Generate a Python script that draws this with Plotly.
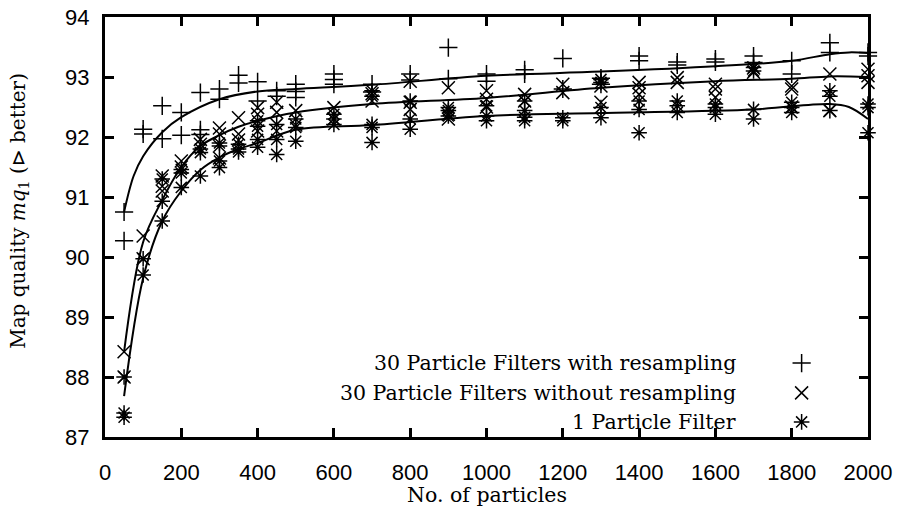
import plotly.graph_objects as go

# ---------------- data ----------------
particles = [50, 100, 150, 200, 250, 300, 350, 400, 450, 500, 600, 700, 800,
             900, 1000, 1100, 1200, 1300, 1400, 1500, 1600, 1700, 1800, 1900, 2000]

with_resampling = [
    [90.75, 90.27], [92.13, 92.05], [92.52, 91.97], [92.41, 92.03],
    [92.74, 92.12, 92.04], [92.80, 92.63], [93.03, 92.90], [92.92, 92.60],
    [92.77, 92.68], [92.88, 92.76, 92.66], [93.05, 92.96, 92.88], [92.88, 92.75],
    [93.05, 92.95], [93.49, 92.97], [93.05, 92.93], [93.12, 93.05], [93.31, 92.80],
    [92.98, 92.88], [93.35, 93.27], [93.25, 93.20], [93.30, 93.25], [93.35, 93.24],
    [93.27, 93.05], [93.57, 93.41], [93.41, 93.35],
]

without_resampling = [
    [88.42, 88.00], [90.35, 89.97], [91.35, 91.18, 91.10], [91.60, 91.50],
    [91.96, 91.88], [92.15, 92.05, 91.65], [92.32, 92.05, 91.95], [92.49, 92.38, 92.10],
    [92.58, 92.41, 92.10], [92.44, 92.20], [92.49, 92.30], [92.72, 92.60],
    [92.93, 92.58, 92.46], [92.82, 92.38, 92.30], [92.77, 92.63, 92.50], [92.71, 92.60],
    [92.88, 92.74], [92.85, 92.58], [92.91, 92.82, 92.71], [92.99, 92.91],
    [92.88, 92.80, 92.66], [93.15, 93.08], [92.85, 92.80, 92.50], [93.05, 92.44],
    [93.13, 93.02, 92.91],
]

single_filter = [
    [88.00, 87.40, 87.33], [89.97, 89.70], [91.30, 90.93, 90.60], [91.46, 91.40, 91.16],
    [91.80, 91.74, 91.35], [91.90, 91.85, 91.60, 91.49], [91.88, 91.80, 91.75],
    [92.27, 92.18, 91.96, 91.83], [92.21, 91.96, 91.71], [92.30, 92.16, 91.93],
    [92.38, 92.30, 92.21], [92.77, 92.68, 92.21, 92.16, 91.91], [92.60, 92.30, 92.13],
    [92.49, 92.44, 92.35], [92.52, 92.35, 92.27], [92.60, 92.44, 92.33, 92.27],
    [92.32, 92.27], [92.96, 92.91, 92.49, 92.32], [92.60, 92.46, 92.07],
    [92.60, 92.52, 92.41], [92.55, 92.49, 92.38], [93.16, 93.10, 92.46, 92.30],
    [92.58, 92.49, 92.41], [92.77, 92.68, 92.44], [92.55, 92.49, 92.07],
]

# smoothed curves
curve_x_plus = [50, 75, 100, 150, 200, 300, 400, 500, 700, 1000, 1300, 1600, 1800, 1900, 1950, 2000]
curve_plus = [90.75, 91.35, 91.68, 92.08, 92.33, 92.63, 92.76, 92.80, 92.87, 93.02, 93.09, 93.18, 93.27, 93.38, 93.41, 93.40]

curve_x_cross = [50, 100, 150, 200, 250, 300, 350, 400, 500, 700, 1000, 1300, 1600, 1800, 1900, 2000]
curve_cross = [88.42, 90.25, 90.95, 91.50, 91.85, 92.03, 92.17, 92.27, 92.41, 92.55, 92.65, 92.82, 92.93, 92.97, 93.01, 93.00]

curve_x_star = [50, 100, 150, 200, 250, 300, 350, 400, 500, 700, 1000, 1300, 1700, 1900, 1950, 2000]
curve_star = [87.68, 89.65, 90.60, 91.10, 91.45, 91.66, 91.80, 91.90, 92.12, 92.20, 92.35, 92.40, 92.46, 92.55, 92.50, 92.30]

series_names = ["30 Particle Filters with resampling",
                "30 Particle Filters without resampling",
                "1 Particle Filter"]

x_ticks = [0, 200, 400, 600, 800, 1000, 1200, 1400, 1600, 1800, 2000]
y_ticks = [87, 88, 89, 90, 91, 92, 93, 94]

# ---------------- figure ----------------
SERIF = "DejaVu Serif"
SANS = "Liberation Sans"


def flatten(groups):
    xs, ys = [], []
    for xv, vals in zip(particles, groups):
        for v in vals:
            xs.append(xv)
            ys.append(v)
    return xs, ys


symbols = ["cross-thin-open", "x-thin-open", "asterisk-open"]
groups = [with_resampling, without_resampling, single_filter]
curves = [(curve_x_plus, curve_plus), (curve_x_cross, curve_cross), (curve_x_star, curve_star)]

fig = go.Figure()

for (cx, cy) in curves:
    fig.add_trace(go.Scatter(x=cx, y=cy, mode="lines",
                             line=dict(color="black", width=2, shape="spline", smoothing=1.0),
                             showlegend=False, hoverinfo="skip"))

for g, sym in zip(groups, symbols):
    xs, ys = flatten(g)
    fig.add_trace(go.Scatter(x=xs, y=ys, mode="markers", cliponaxis=False,
                             marker=dict(symbol=sym, size=13, color="black",
                                         line=dict(color="black", width=1.5)),
                             showlegend=False))

# key (text left of sample, as in the original)
key_rows_y = [0.176, 0.105, 0.036]
fig.add_trace(go.Scatter(x=[0.913] * 3, y=key_rows_y, mode="markers", xaxis="x2", yaxis="y2",
                         marker=dict(symbol=symbols, size=13, color="black",
                                     line=dict(color="black", width=1.5)),
                         showlegend=False, hoverinfo="skip", cliponaxis=False))

annotations = []
for name, yk in zip(series_names, key_rows_y):
    annotations.append(dict(text=name, xref="paper", yref="paper", x=0.830, y=yk,
                            xanchor="right", yanchor="middle", showarrow=False,
                            font=dict(family=SERIF, size=20.5, color="black")))

annotations.append(dict(text="No. of particles", xref="paper", yref="paper",
                        x=0.5, y=-0.138, xanchor="center", yanchor="middle", showarrow=False,
                        font=dict(family=SERIF, size=20.5, color="black")))
annotations.append(dict(text="Map quality <i>mq</i><sub>1</sub> (⊳ better)", xref="paper", yref="paper",
                        x=-0.113, y=0.538, xanchor="center", yanchor="middle", showarrow=False,
                        textangle=-90,
                        font=dict(family=SERIF, size=20, color="black")))

axis_common = dict(showgrid=False, zeroline=False, showline=True, linecolor="black", linewidth=3,
                   mirror="ticks", ticks="inside", ticklen=9, tickwidth=2.5, tickcolor="black",
                   automargin=False,
                   tickfont=dict(family=SANS, size=22, color="black"))

fig.update_layout(
    width=908, height=513,
    margin=dict(l=105, r=40, t=17, b=76, autoexpand=False),
    paper_bgcolor="white", plot_bgcolor="white",
    showlegend=False,
    xaxis=dict(range=[0, 2000], tickmode="array", tickvals=x_ticks,
               ticktext=[str(t) for t in x_ticks], ticklabelstandoff=14, **axis_common),
    yaxis=dict(range=[87, 94], tickmode="array", tickvals=y_ticks,
               ticktext=[str(t) for t in y_ticks], ticklabelstandoff=8, **axis_common),
    xaxis2=dict(range=[0, 1], overlaying="x", visible=False, fixedrange=True),
    yaxis2=dict(range=[0, 1], overlaying="y", visible=False, fixedrange=True),
    annotations=annotations,
)

fig.write_html("out.html", config={"displayModeBar": False},
               post_script="document.body.style.margin='0';document.body.style.padding='0';")
